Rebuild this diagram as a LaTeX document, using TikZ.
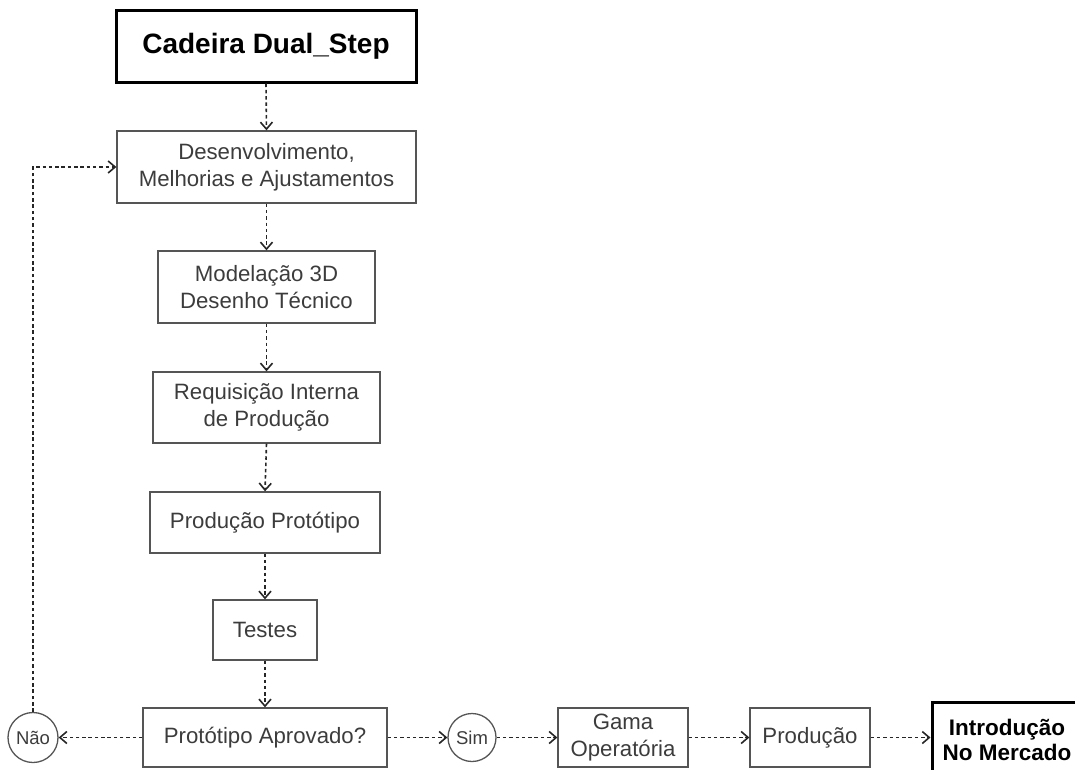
\documentclass[tikz,border=0pt]{standalone}
\usepackage{fontspec}
\setmainfont{Liberation Sans}
\usetikzlibrary{arrows.meta}
\definecolor{txtgray}{HTML}{3C3C3C}
\definecolor{linegray}{HTML}{555555}
\begin{document}
\begin{tikzpicture}[x=1pt,y=-1pt,
  stepbox/.style={draw=linegray, line width=1.3pt, inner sep=0pt, align=center,
    text=txtgray, font=\fontsize{22.2}{27}\selectfont},
  keybox/.style={draw=black, line width=3pt, inner sep=0pt, align=center,
    text=black, font=\fontsize{22.5}{25}\selectfont\bfseries},
  answer/.style={draw=linegray, line width=1.3pt, circle, inner sep=0pt,
    text=txtgray, font=\fontsize{18.5}{20}\selectfont},
  flow/.style={draw=black!85, line width=1.6pt, dash pattern=on 3.5pt off 2.8pt,
    -{Straight Barb[length=7pt,width=12pt]}}
]
\useasboundingbox (0,0) rectangle (1075,769);
\clip (0,0) rectangle (1075,769);

% main vertical chain
\node[keybox, minimum width=300, minimum height=72, font=\fontsize{28}{32}\selectfont\bfseries]
  (title) at (266,46) {Cadeira Dual\_Step};
\node[stepbox, minimum width=299, minimum height=72] (dev) at (266.5,167)
  {Desenvolvimento,\\Melhorias e Ajustamentos};
\node[stepbox, minimum width=217, minimum height=72] (model) at (266.5,287)
  {Modelação 3D\\Desenho Técnico};
\node[stepbox, minimum width=227, minimum height=71] (req) at (266.5,407.5)
  {Requisição Interna\\de Produção};
\node[stepbox, minimum width=230, minimum height=61] (proto) at (265,522.5)
  {Produção Protótipo};
\node[stepbox, minimum width=104, minimum height=60] (test) at (265,630)
  {Testes};
\node[stepbox, minimum width=244, minimum height=59] (ok) at (265,737.5)
  {Protótipo Aprovado?};

% decision outcomes and the production row
\node[answer, minimum size=50] (nao) at (33,737.5) {Não};
\node[answer, minimum size=48] (sim) at (472,737.5) {Sim};
\node[stepbox, minimum width=130, minimum height=59] (gama) at (623,737.5)
  {Gama\\Operatória};
\node[stepbox, minimum width=120, minimum height=59] (prod) at (810,737.5)
  {Produção};
\node[keybox, minimum width=150, minimum height=75] (market) at (1007,739.5)
  {Introdução\\No Mercado};

% connectors
\draw[flow] (title.south) -- (dev.north);
\draw[flow] (dev.south) -- (model.north);
\draw[flow] (model.south) -- (req.north);
\draw[flow] (req.south) -- (proto.north);
\draw[flow] (proto.south) -- (test.north);
\draw[flow] (test.south) -- (ok.north);
\draw[flow] (ok.west) -- (nao.east);
\draw[flow] (ok.east) -- (sim.west);
\draw[flow] (sim.east) -- (gama.west);
\draw[flow] (gama.east) -- (prod.west);
\draw[flow] (prod.east) -- (prod.east -| market.west);
\draw[flow] (nao.north) |- (dev.west);
\end{tikzpicture}
\end{document}
